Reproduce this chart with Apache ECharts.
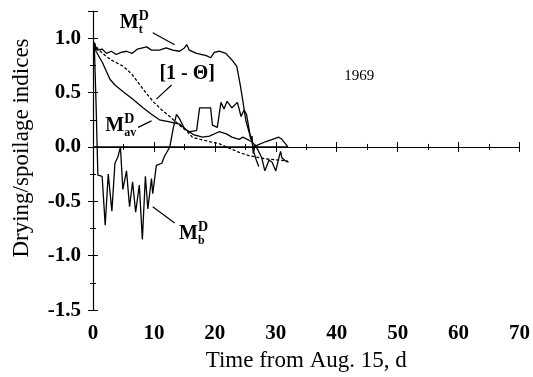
<!DOCTYPE html>
<html>
<head>
<meta charset="utf-8" />
<title>1969</title>
<style>
  * { margin: 0; padding: 0; }
  #chart { width: 533px; height: 377px; }
</style>
</head>
<body>
<div id="chart"></div>
<script src="https://cdn.jsdelivr.net/npm/echarts@6/dist/echarts.min.js"></script>
<script>
// values, [day, index]
var mtD = [[0.2,0.95],[0.7,0.89],[1.5,0.9],[2.2,0.86],[3,0.88],[3.8,0.85],[4.6,0.87],[5.5,0.88],[6.4,0.86],[7.3,0.9],
  [8.8,0.92],[9.6,0.89],[10.9,0.89],[12,0.91],[13.1,0.89],[14.2,0.88],[15,0.91],[15.4,0.94],[15.8,0.89],[17,0.86],
  [18.6,0.84],[19.3,0.82],[19.9,0.87],[20.7,0.88],[21.8,0.86],[22.8,0.8],[23.6,0.74],[24.2,0.56],[24.6,0.42],
  [25.1,0.24],[25.6,0.14],[26.1,0.05],[26.4,-0.05],[26.8,-0.12],[27.2,-0.18]];
var thetaD = [[0.2,0.96],[0.8,0.9],[2,0.84],[3,0.8],[4,0.77],[5,0.74],[5.8,0.7],[6.5,0.66],[7.7,0.57],[8.8,0.49],
  [10,0.41],[11.3,0.34],[12.6,0.28],[14.2,0.2],[15.5,0.14],[16.3,0.09],[17.6,0.07],[19.1,0.05],[20.7,0.03],
  [21.9,0.0],[24,-0.05],[25.6,-0.08],[28.4,-0.11],[32,-0.13]];
var mavD = [[0.2,0.95],[0.5,0.88],[1.6,0.77],[2.8,0.62],[3.6,0.57],[4.9,0.51],[6.5,0.44],[8.2,0.36],[9.6,0.3],
  [10.9,0.25],[12.6,0.23],[14.2,0.21],[15.5,0.15],[16.6,0.11],[18,0.09],[19.1,0.1],[20.7,0.14],[21.9,0.12],
  [22.8,0.09],[24,0.07],[24.6,0.09],[26,0.05],[26.7,0.01],[28.4,0.05],[30.5,0.09],[31,0.07],[32,0.0]];
var mbD = [[0.2,0.96],[0.5,0.4],[0.65,0.07],[0.8,-0.26],[1.5,-0.27],[2,-0.72],[2.5,-0.25],[3.1,-0.59],[3.6,-0.15],
  [4.1,-0.09],[4.5,0.0],[4.9,-0.39],[5.5,-0.22],[6,-0.55],[6.5,-0.32],[7,-0.6],[7.6,-0.35],[8.1,-0.85],[8.6,-0.27],
  [9,-0.57],[9.6,-0.29],[9.8,-0.43],[10.4,-0.17],[11.3,-0.15],[11.7,-0.09],[12.6,0],[13.2,0.18],[13.7,0.3],
  [14.2,0.26],[15,0.17],[15.8,0.14],[17,0.15],[17.5,0.36],[19.3,0.36],[19.6,0.2],[20.4,0.18],[21,0.41],[21.5,0.35],
  [22,0.42],[22.8,0.36],[23.7,0.41],[24.3,0.28],[24.8,0.34],[25.2,0.3],[25.9,0.07],[26.1,0.1],[26.3,-0.06],
  [26.6,0.02],[27,-0.02],[27.7,-0.1],[28.2,-0.22],[28.9,-0.12],[29.4,-0.14],[30,-0.22],[30.5,-0.1],[30.8,-0.04],
  [31,-0.1],[31.6,-0.13],[32.1,-0.14]];
var zeroD = [[0,0],[32,0]];

var xName = "Time from Aug. 15, d";
var yName = "Drying/spoilage indices";
var yearText = "1969";

var FONT = "Liberation Serif";
var chart = echarts.init(document.getElementById("chart"), null, { renderer: "canvas" });

function line(data, dashed) {
  return {
    type: "line", data: data, symbol: "none", silent: true,
    lineStyle: { color: "#000", width: 1.3, type: dashed ? [3, 2] : "solid" }
  };
}

var tickStyle = { color: "#000", width: 1 };

var option = {
  animation: false,
  backgroundColor: "#fff",
  grid: { left: 93, right: 11, top: 11, bottom: 64 },
  xAxis: [
    {
      type: "value", min: 0, max: 70, interval: 10,
      axisLine: { lineStyle: { color: "#000", width: 1.2 } },
      axisTick: { length: 5, lineStyle: tickStyle },
      minorTick: { show: true, splitNumber: 2, length: 3, lineStyle: tickStyle },
      splitLine: { show: false },
      axisLabel: { margin: 13, color: "#000", fontFamily: FONT, fontSize: 21, fontWeight: "bold" },
      name: xName, nameLocation: "middle", nameGap: 31,
      nameTextStyle: { color: "#000", fontFamily: FONT, fontSize: 23 }
    },
    {
      type: "value", min: 0, max: 70, interval: 10, position: "bottom",
      axisLine: { show: false },
      axisTick: { inside: true, length: 5, lineStyle: tickStyle },
      minorTick: { show: true, splitNumber: 2, length: 3, lineStyle: tickStyle },
      splitLine: { show: false }, axisLabel: { show: false }
    }
  ],
  yAxis: [
    {
      type: "value", min: -1.5, max: 1.25, interval: 0.5,
      axisLine: { show: true, lineStyle: { color: "#000", width: 1.2 } },
      axisTick: { show: true, length: 5, lineStyle: tickStyle },
      minorTick: { show: true, splitNumber: 2, length: 3, lineStyle: tickStyle },
      splitLine: { show: false },
      axisLabel: {
        margin: 12, color: "#000", fontFamily: FONT, fontSize: 21, fontWeight: "bold",
        formatter: function (v) { return Math.abs(v * 2 - Math.round(v * 2)) < 1e-6 ? v.toFixed(1) : ""; }
      }
    },
    {
      type: "value", min: -1.5, max: 1.25, interval: 0.5, position: "left",
      axisLine: { show: false },
      axisTick: { show: true, inside: true, length: 5, lineStyle: tickStyle },
      minorTick: { show: true, splitNumber: 2, length: 3, lineStyle: tickStyle },
      splitLine: { show: false }, axisLabel: { show: false }
    }
  ],
  series: [line(zeroD), line(mtD), line(thetaD, true), line(mavD), line(mbD)]
};
chart.setOption(option);

// annotations, anchored in data coordinates
var labels = [
  { at: [4.4, 1.14], main: "M", sup: "D", sub: "t", lead: [[9.8, 1.05], [13.4, 0.94]] },
  { at: [2.0, 0.19], main: "M", sup: "D", sub: "av", lead: [[7.4, 0.18], [9.6, 0.24]] },
  { at: [14.1, -0.8], main: "M", sup: "D", sub: "b", lead: [[13.4, -0.7], [9.8, -0.55]] },
  { at: [10.9, 0.67], main: "[1 - \u0398]", lead: [[12.9, 0.57], [10.4, 0.44]] }
];

function px(p) { return chart.convertToPixel({ gridIndex: 0 }, p); }

var graphics = [];
labels.forEach(function (l) {
  var p = px(l.at);
  graphics.push({ type: "text", x: p[0], y: p[1], silent: true,
    style: { text: l.main, fill: "#000", font: "bold 20px '" + FONT + "'", align: "left", verticalAlign: "middle" } });
  if (l.sup) {
    graphics.push({ type: "text", x: p[0] + 19, y: p[1] - 7, silent: true,
      style: { text: l.sup, fill: "#000", font: "bold 14px '" + FONT + "'", align: "left", verticalAlign: "middle" } });
    graphics.push({ type: "text", x: p[0] + 19, y: p[1] + 7, silent: true,
      style: { text: l.sub, fill: "#000", font: "bold 12px '" + FONT + "'", align: "left", verticalAlign: "middle" } });
  }
  var a = px(l.lead[0]), b = px(l.lead[1]);
  graphics.push({ type: "line", silent: true, shape: { x1: a[0], y1: a[1], x2: b[0], y2: b[1] },
    style: { stroke: "#000", lineWidth: 1.2 } });
});
var yp = px([43.7, 0.65]);
graphics.push({ type: "text", x: yp[0], y: yp[1], silent: true,
  style: { text: yearText, fill: "#000", font: "15px '" + FONT + "'", align: "center", verticalAlign: "middle" } });
graphics.push({ type: "text", x: 22, y: 148, rotation: Math.PI / 2, silent: true,
  style: { text: yName, fill: "#000", font: "23px '" + FONT + "'", align: "center", verticalAlign: "middle" } });

chart.setOption({ graphic: graphics });
</script>
</body>
</html>
